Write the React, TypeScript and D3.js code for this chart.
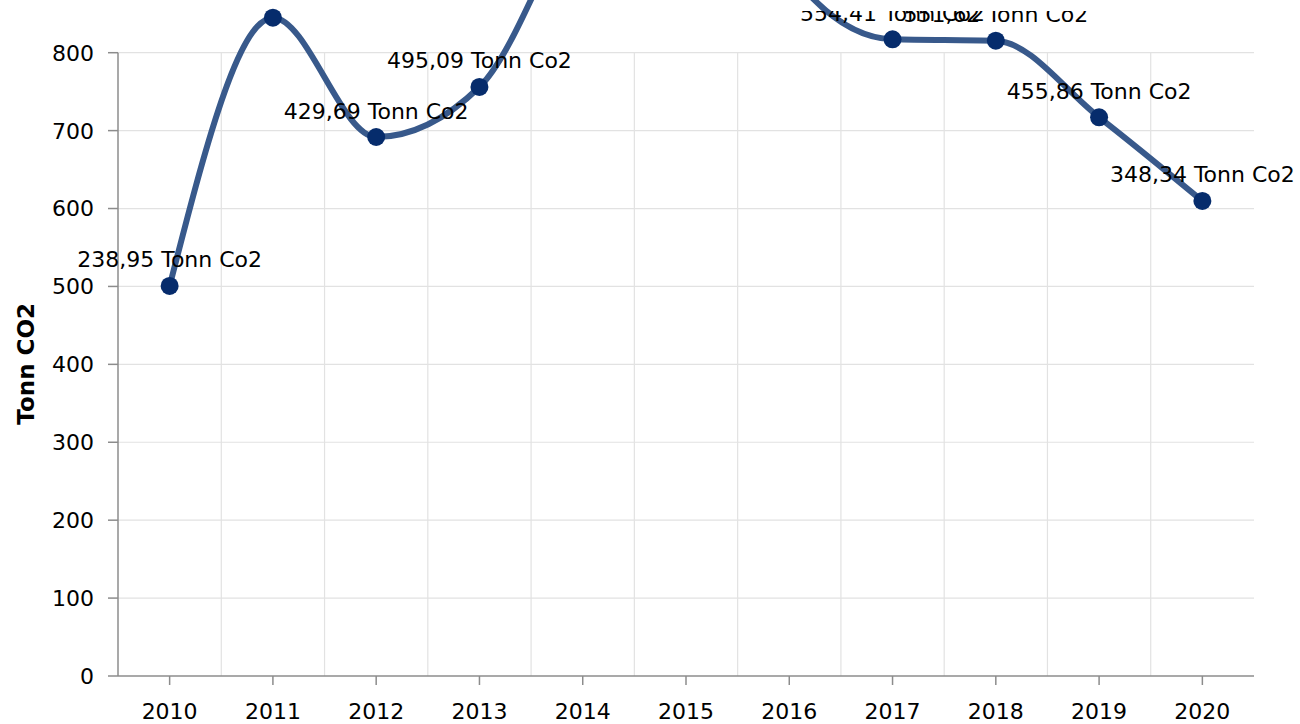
import React from "react";
import * as d3 from "d3";

const years = ["2010", "2011", "2012", "2013", "2014", "2015", "2016", "2017", "2018", "2019", "2020"];
// plotted (stacked) heights of the line
const values = [500.6, 845.0, 691.8, 756.0, 1002, 1186, 905, 817.2, 815.4, 717.1, 609.7];
// data-label texts shown above each point
const labelValues = ["238,95", "583,12", "429,69", "495,09", "740,48", "924,53", "643,27", "554,41", "551,62", "455,86", "348,34"];
const yTicks = [0, 100, 200, 300, 400, 500, 600, 700, 800];
const yTitle = "Tonn CO2";
const unit = "Tonn Co2";

const W = 1300;
const H = 724;
const left = 118;
const right = 1254;
const top = 52.7;
const bottom = 676;
const labelClipTop = 11;
const font = "'DejaVu Sans', Verdana, sans-serif";

export default function App() {
  const x = d3.scaleBand<string>().domain(years).range([left, right]).paddingInner(0).paddingOuter(0);
  const y = d3.scaleLinear().domain([0, 800]).range([bottom, top]);
  const cx = (i: number) => (x(years[i]) as number) + x.bandwidth() / 2;

  const line = d3
    .line<number>()
    .x((_, i) => cx(i))
    .y((d) => y(d))
    .curve(d3.curveMonotoneX);

  const boundaries = years.slice(1).map((yr) => x(yr) as number);

  return (
    <svg
      width={W}
      height={H}
      style={{ position: "absolute", left: 0, top: 0, display: "block", background: "#fff" }}
      fontFamily={font}
    >
      <defs>
        <clipPath id="labelClip">
          <rect x={0} y={labelClipTop} width={W} height={H - labelClipTop} />
        </clipPath>
      </defs>
      {/* horizontal grid */}
      {yTicks
        .filter((t) => t > 0)
        .map((t) => (
          <line key={"hg" + t} x1={left} x2={right} y1={y(t)} y2={y(t)} stroke="#e2e2e2" strokeWidth={1.2} />
        ))}
      {/* vertical grid at category boundaries */}
      {boundaries.map((b, i) => (
        <line key={"vg" + i} x1={b} x2={b} y1={top} y2={bottom} stroke="#e2e2e2" strokeWidth={1.2} />
      ))}
      {/* y axis */}
      <line x1={left} x2={left} y1={top} y2={bottom} stroke="#8c8c8c" strokeWidth={1.5} />
      {yTicks.map((t) => (
        <g key={"yt" + t}>
          <line x1={left - 10} x2={left} y1={y(t)} y2={y(t)} stroke="#8c8c8c" strokeWidth={1.5} />
          <text x={94} y={y(t)} dy="0.36em" textAnchor="end" fontSize={22} fill="#000">
            {t}
          </text>
        </g>
      ))}
      {/* x axis */}
      <line x1={left} x2={right} y1={bottom} y2={bottom} stroke="#8c8c8c" strokeWidth={1.5} />
      {years.map((yr, i) => (
        <g key={"xt" + yr}>
          <line x1={cx(i)} x2={cx(i)} y1={bottom} y2={bottom + 9} stroke="#8c8c8c" strokeWidth={1.5} />
          <text x={cx(i)} y={719} textAnchor="middle" fontSize={22} fill="#000">
            {yr}
          </text>
        </g>
      ))}
      {/* y title */}
      <text
        transform={`translate(33.5, ${(top + bottom) / 2 - 0.5}) rotate(-90)`}
        textAnchor="middle"
        fontSize={23}
        fontWeight="bold"
        fill="#000"
      >
        {yTitle}
      </text>
      {/* series line */}
      <path d={line(values) || ""} fill="none" stroke="#38598b" strokeWidth={6} strokeLinecap="round" />
      {/* markers */}
      {values.map((v, i) => (
        <circle key={"pt" + i} cx={cx(i)} cy={y(v)} r={9} fill="#062c6c" />
      ))}
      {/* data labels */}
      <g clipPath="url(#labelClip)">
        {values.map((v, i) => (
          <text key={"lb" + i} x={cx(i)} y={y(v) - 18.5} textAnchor="middle" fontSize={22} fill="#000">
            {`${labelValues[i]} ${unit}`}
          </text>
        ))}
      </g>
    </svg>
  );
}
